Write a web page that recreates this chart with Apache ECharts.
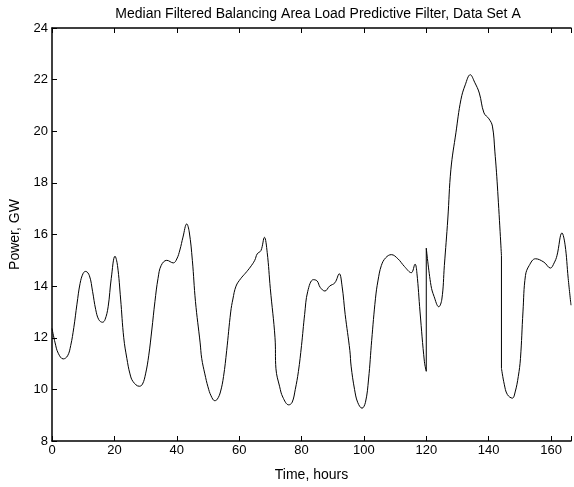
<!DOCTYPE html>
<html>
<head>
<meta charset="utf-8">
<script src="https://cdn.jsdelivr.net/npm/echarts@6/dist/echarts.min.js"></script>
<style>html,body{margin:0;padding:0;background:#fff}#c{width:574px;height:487px}</style>
</head>
<body>
<div id="c"></div>
<script>
const hours = [0,1,2,3.6,5,6,7,8,9,10,10.8,12,13,14,15,16.2,17,18,19,20.2,21,22,23,24,25,26,28,29,30,31,32,33,34,35,36.8,38.9,40,41,42,43.2,44,45,46,47.5,48,49,50,51,52.2,53,54,55,56,57.3,58,59,60.5,62,63.6,65,65.8,67,68.1,69,70,71.5,71.8,73,74,75.9,77,78,79,80,81,82,83.8,85,86,87.5,89,90.7,92.1,93,94,95.5,95.9,97,98,99.4,100.5,101.5,102.5,103.7,104.5,105.6,107,108.8,110.9,113,115.2,116.4,117,118,119.4,120,120,121.5,122.5,124,125,125.8,126.9,127.9,129.5,131.1,132.5,134.1,135.5,137,138.5,140.1,141.2,142,142.8,144.1,144.1,145,146,147.6,148.5,149.5,150.2,151,151.8,153,155,157.7,159.8,161,161.9,163.5,164.5,165.5,166.4];
const power = [12.36,11.8,11.4,11.18,11.3,11.7,12.4,13.3,14.1,14.5,14.57,14.4,13.8,13.1,12.7,12.6,12.7,13.2,14.3,15.16,14.8,13.5,12.0,11.2,10.6,10.3,10.12,10.2,10.6,11.3,12.3,13.4,14.3,14.8,15.0,14.9,15.05,15.4,15.9,16.41,16.1,15.0,13.4,11.8,11.2,10.6,10.1,9.75,9.56,9.62,9.9,10.5,11.5,13.0,13.5,14.0,14.29,14.5,14.74,15.0,15.25,15.38,15.89,15.3,13.9,12.0,10.8,10.1,9.7,9.4,9.5,10.0,10.69,11.7,12.9,13.8,14.25,14.2,13.95,13.81,14.0,14.13,14.48,14.0,12.9,11.5,10.9,10.0,9.5,9.27,9.5,10.4,11.9,13.51,14.2,14.8,15.1,15.22,15.06,14.76,14.52,14.85,14.5,13.0,11.07,10.7,15.47,14.03,13.6,13.2,13.5,14.8,16.6,18.53,19.94,21.22,21.8,22.19,21.9,21.48,20.71,20.48,20.2,19.2,17.88,15.18,10.82,10.2,9.8,9.66,9.9,10.5,11.2,13.0,14.41,14.8,15.06,14.93,14.7,14.9,15.18,16.06,15.6,14.3,13.26];
const xTicks = [0,20,40,60,80,100,120,140,160];
const yTicks = [8,10,12,14,16,18,20,22,24];

const font = 'Liberation Sans, Arial, Helvetica, sans-serif';
const chart = echarts.init(document.getElementById('c'), null, {renderer: 'canvas'});
const axisCommon = {
  axisLine: {show: true, lineStyle: {color: '#000', width: 1.5}},
  axisTick: {show: true, inside: true, length: 5, lineStyle: {color: '#000', width: 1}},
  splitLine: {show: false}
};

// split the trace where the time repeats (vertical jumps), so each smooth piece stays continuous
const pts = hours.map((h, i) => [h, power[i]]);
const pieces = [];
let start = 0;
for (let i = 1; i < pts.length; i++) {
  if (pts[i][0] === pts[i - 1][0]) {
    pieces.push({data: pts.slice(start, i), smooth: 0.4});
    pieces.push({data: pts.slice(i - 1, i + 1), smooth: false});
    start = i;
  }
}
pieces.push({data: pts.slice(start), smooth: 0.4});

chart.setOption({
  animation: false,
  backgroundColor: '#fff',
  title: {
    text: 'Median Filtered Balancing Area Load Predictive Filter, Data Set A',
    left: 313, top: 2, textAlign: 'center',
    textStyle: {fontFamily: font, fontSize: 14, fontWeight: 'normal', color: '#000'}
  },
  grid: {left: 52, top: 28, right: 0, bottom: 44, containLabel: false},
  xAxis: [
    Object.assign({
      type: 'value', min: 0, max: 166.4, interval: 20, position: 'bottom',
      name: 'Time, hours', nameLocation: 'middle', nameGap: 27,
      nameTextStyle: {fontFamily: font, fontSize: 14, color: '#000'},
      axisLabel: {fontFamily: font, fontSize: 13, color: '#000', margin: 3,
        formatter: v => xTicks.includes(v) ? String(v) : ''}
    }, axisCommon),
    Object.assign({
      type: 'value', min: 0, max: 166.4, interval: 20, position: 'top',
      axisLabel: {show: false}
    }, axisCommon)
  ],
  yAxis: Object.assign({
    type: 'value', min: 8, max: 24, interval: 2,
    name: 'Power, GW', nameLocation: 'middle', nameGap: 30,
    nameTextStyle: {fontFamily: font, fontSize: 14, color: '#000'},
    axisLabel: {fontFamily: font, fontSize: 13, color: '#000', margin: 4,
      formatter: v => yTicks.includes(v) ? String(v) : ''}
  }, axisCommon),
  series: pieces.map(p => ({
    type: 'line',
    data: p.data,
    smooth: p.smooth,
    showSymbol: false,
    lineStyle: {color: '#000', width: 1},
    clip: true
  }))
});
</script>
</body>
</html>
